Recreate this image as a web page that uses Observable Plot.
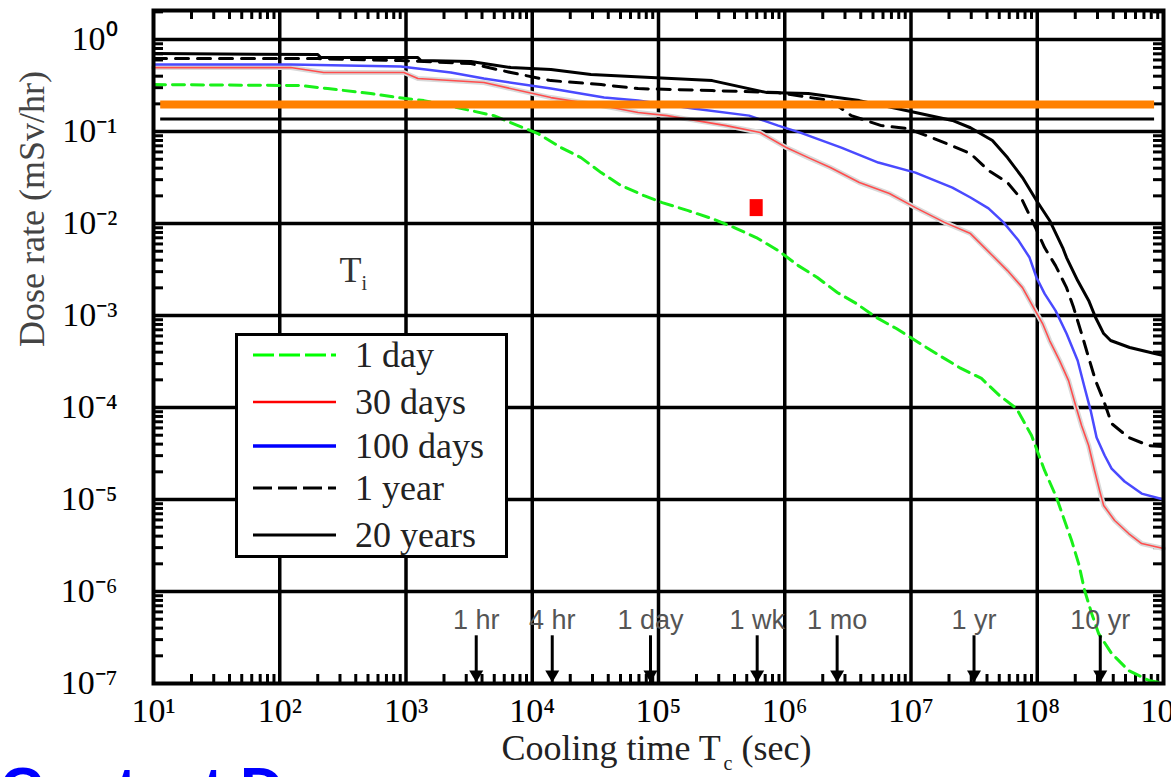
<!DOCTYPE html>
<html><head><meta charset="utf-8">
<script src="https://cdn.jsdelivr.net/npm/d3@7"></script>
<script src="https://cdn.jsdelivr.net/npm/@observablehq/plot@0.6"></script>
<style>
html,body{margin:0;padding:0;background:#fff;overflow:hidden;}
#wrap{position:relative;width:1171px;height:777px;overflow:hidden;background:#fff;}
#legend{position:absolute;left:235px;top:333px;width:267px;height:219px;border:3px solid #000;background:#fff;}
#blueText{position:absolute;left:0;top:759px;font:bold 60px/60px "Liberation Sans",Arial,sans-serif;color:#0000ff;white-space:nowrap;}
</style></head>
<body><div id="wrap"><div id="blueText">Contact Dose</div></div>
<script>
// ---- Data (cooling time in s, dose rate in mSv/hr) ----
const seriesNames = ["1 day", "30 days", "100 days", "1 year", "20 years"];

const day1 = [[10,0.324],[147,0.316],[240,0.293],[526,0.259],[861,0.234],[1384,0.217],[3266,0.169],[4966,0.149],[7709,0.116],[11090,0.0951],[16900,0.0670],[24320,0.0521],[35080,0.0358],[50470,0.0259],[76910,0.0201],[1.069e5,0.0169],[1.718e5,0.0138],[2.661e5,0.0113],[3.981e5,0.00905],[5.943e5,0.00705],[8.872e5,0.00509],[1.279e6,0.00349],[1.811e6,0.00259],[2.606e6,0.00178],[3.690e6,0.00135],[5.321e6,9.51e-4],[7.656e6,7.22e-4],[1.146e7,5.09e-4],[1.679e7,3.68e-4],[2.421e7,2.72e-4],[3.614e7,2.07e-4],[5.023e7,1.35e-4],[6.855e7,9.75e-5],[9.016e7,4.96e-5],[1.143e8,2.07e-5],[1.422e8,1.05e-5],[1.644e8,5.91e-6],[1.871e8,3.58e-6],[2.128e8,2.01e-6],[2.371e8,1.03e-6],[2.698e8,5.77e-7],[3.062e8,3.49e-7],[3.882e8,2.12e-7],[5.297e8,1.38e-7],[7.638e8,1.08e-7],[1e9,1.0e-7]];

const days30 = [[10,0.496],[122,0.496],[223,0.438],[962,0.438],[1242,0.377],[4140,0.341],[14060,0.234],[35080,0.192],[68870,0.161],[1.170e5,0.149],[3.436e5,0.116],[6.397e5,0.0975],[1.028e6,0.0670],[1.535e6,0.0521],[2.296e6,0.0406],[3.899e6,0.0279],[6.745e6,0.0212],[1.084e7,0.0149],[1.841e7,0.0103],[2.958e7,0.00778],[4.416e7,0.00449],[5.808e7,0.00308],[7.638e7,0.00201],[9.354e7,0.00122],[1.102e8,8.18e-4],[1.253e8,5.35e-4],[1.503e8,3.24e-4],[1.770e8,1.96e-4],[2.014e8,1.05e-4],[2.244e8,6.37e-5],[2.553e8,3.86e-5],[2.844e8,2.07e-5],[3.119e8,1.25e-5],[3.357e8,8.61e-6],[4.102e8,5.91e-6],[5.297e8,4.27e-6],[6.714e8,3.32e-6],[1e9,2.93e-6]];

const days100 = [[10,0.535],[122,0.535],[910,0.509],[2265,0.438],[4140,0.377],[14060,0.293],[37070,0.234],[68870,0.217],[1.879e5,0.178],[5.224e5,0.149],[8.872e5,0.116],[1.327e6,0.0975],[2.805e6,0.0670],[5.508e6,0.0460],[1.084e7,0.0358],[2.128e7,0.0246],[2.958e7,0.0192],[4.111e7,0.0146],[5.404e7,0.0103],[7.112e7,0.00653],[8.690e7,0.00427],[9.863e7,0.00259],[1.143e8,0.00173],[1.396e8,0.00113],[1.706e8,6.37e-4],[2.089e8,3.24e-4],[2.371e8,1.65e-4],[2.649e8,9.27e-5],[2.951e8,4.72e-5],[3.420e8,3.01e-5],[3.882e8,2.17e-5],[4.920e8,1.57e-5],[6.714e8,1.16e-5],[1e9,1.0e-5]];

const year1 = [[10,0.621],[200,0.621],[910,0.591],[3266,0.548],[6776,0.438],[14060,0.358],[35080,0.324],[68870,0.293],[2.661e5,0.279],[8.872e5,0.265],[2.296e6,0.217],[3.365e6,0.149],[5.821e6,0.116],[9.354e6,0.108],[1.324e7,0.0905],[2.089e7,0.0705],[2.958e7,0.0577],[4.111e7,0.0377],[5.808e7,0.0279],[7.638e7,0.0178],[9.683e7,0.00905],[1.143e8,0.00548],[1.396e8,0.00349],[1.706e8,0.00201],[1.941e8,0.00122],[2.244e8,6.37e-4],[2.553e8,3.49e-4],[2.897e8,1.96e-4],[3.357e8,1.19e-4],[3.882e8,6.70e-5],[5.297e8,4.72e-5],[7.638e8,3.86e-5],[1e9,3.77e-5]];

const years20 = [[10,0.705],[200,0.687],[211,0.637],[1242,0.637],[1310,0.591],[3266,0.577],[6776,0.496],[14060,0.472],[29170,0.417],[87300,0.386],[2.661e5,0.358],[7.261e5,0.265],[1.535e6,0.259],[3.899e6,0.217],[1.084e7,0.161],[2.128e7,0.132],[2.958e7,0.110],[4.416e7,0.0798],[5.808e7,0.0521],[7.638e7,0.0316],[9.863e7,0.0178],[1.253e8,0.0108],[1.589e8,0.00548],[1.706e8,0.00427],[2.089e8,0.00240],[2.553e8,0.00146],[2.897e8,9.51e-4],[3.357e8,6.37e-4],[3.811e8,5.35e-4],[5.395e8,4.49e-4],[8.511e8,3.86e-4],[1e9,3.68e-4]];

// Tick values and labels
const xTicks = [1e1,1e2,1e3,1e4,1e5,1e6,1e7,1e8,1e9];
const xTickLabels = ["10¹","10²","10³","10⁴","10⁵","10⁶","10⁷","10⁸","10⁹"];
const yTicks = [1,1e-1,1e-2,1e-3,1e-4,1e-5,1e-6,1e-7];
const yTickLabels = ["10⁰","10⁻¹","10⁻²","10⁻³","10⁻⁴","10⁻⁵","10⁻⁶","10⁻⁷"];

// Time markers along the bottom
const markerTimes = [3600, 14400, 86400, 604800, 2.6e6, 3.156e7, 3.156e8];
const markerLabels = ["1 hr", "4 hr", "1 day", "1 wk", "1 mo", "1 yr", "10 yr"];
const markerLabelDose = 4.84e-7;
const markerTopDose = 3.3e-7;
const markerHeadDose = 1.19e-7;

// Overlay annotations (values)
const orangeLevel = 0.1966, blackLevel = 0.137, overlayT = [11.4, 8.5e8];
const redBox = {x1: 5.32e5, x2: 6.75e5, y1: 0.0119, y2: 0.0182};

// ---- Styles ----
const styles = {
  "1 day":   {stroke: "#19f019", strokeWidth: 3, dash: "12,7"},
  "30 days": {stroke: "#ff4d4d", strokeWidth: 1.6, dash: null},
  "100 days":{stroke: "#4a4aff", strokeWidth: 2.5, dash: null},
  "1 year":  {stroke: "#000", strokeWidth: 3, dash: "13,9"},
  "20 years":{stroke: "#000", strokeWidth: 3, dash: null}
};
const legendStyles = {
  "1 day":   {stroke: "#00ff00", w: 3, dash: "21,5"},
  "30 days": {stroke: "#ff0000", w: 2.5, dash: null},
  "100 days":{stroke: "#0000ff", w: 3.5, dash: null},
  "1 year":  {stroke: "#000", w: 3, dash: "19,6"},
  "20 years":{stroke: "#000", w: 3, dash: null}
};

const xLabelMap = new Map(xTicks.map((d, i) => [d, xTickLabels[i]]));
const yLabelMap = new Map(yTicks.map((d, i) => [d, yTickLabels[i]]));

const xMinor = [];
for (let e = 1; e < 9; e++) for (let m = 2; m < 10; m++) xMinor.push(m * 10 ** e);
const yMinor = [];
for (let e = -7; e <= 0; e++) for (let m = 2; m < 10; m++) { const v = m * 10 ** e; if (v < 2.07) yMinor.push(v); }

const downTriangle = {
  draw(ctx, size) {
    ctx.moveTo(-7, -6); ctx.lineTo(7, -6); ctx.lineTo(0, 6); ctx.closePath();
  }
};

const serif = '"Liberation Serif", "Times New Roman", serif';
const sans = '"Liberation Sans", Arial, sans-serif';
const X = d => d[0], Y = d => d[1];
const lineOpts = (name) => {
  const s = styles[name];
  return {x: X, y: Y, stroke: s.stroke, strokeWidth: s.strokeWidth, strokeDasharray: s.dash ?? undefined, strokeLinejoin: "round"};
};

const chart = Plot.plot({
  width: 1171, height: 777,
  marginLeft: 153, marginRight: 8, marginTop: 10, marginBottom: 94,
  x: {type: "log", domain: [10, 1e9]},
  y: {type: "log", domain: [1e-7, 2.07]},
  style: {fontFamily: serif, background: "white", color: "black"},
  marks: [
    // grid
    Plot.ruleX(xTicks.slice(1, -1), {strokeWidth: 3.5}),
    Plot.ruleY(yTicks.slice(0, -1), {strokeWidth: 3.5}),
    // minor ticks on all four sides
    Plot.ruleX(xMinor, {insetBottom: 664, strokeWidth: 3}),
    Plot.ruleX(xMinor, {insetTop: 664, strokeWidth: 3}),
    Plot.ruleY(yMinor, {insetRight: 1000, strokeWidth: 3}),
    Plot.ruleY(yMinor, {insetLeft: 1000, strokeWidth: 3}),
    // curves
    Plot.line(day1, lineOpts("1 day")),
    Plot.line(days30, {x: X, y: Y, stroke: "#d9d9d9", strokeWidth: 5, strokeLinejoin: "round"}),
    Plot.line(days30, lineOpts("30 days")),
    Plot.line(days100, lineOpts("100 days")),
    Plot.line(year1, lineOpts("1 year")),
    Plot.line(years20, lineOpts("20 years")),
    // overlay lines
    Plot.ruleY([blackLevel], {x1: overlayT[0], x2: overlayT[1], strokeWidth: 3}),
    Plot.ruleY([orangeLevel], {x1: overlayT[0], x2: overlayT[1], stroke: "#ff8000", strokeWidth: 8}),
    Plot.rect([redBox], {x1: "x1", x2: "x2", y1: "y1", y2: "y2", fill: "#ff0000"}),
    // time markers
    Plot.ruleX(markerTimes, {y1: markerTopDose, y2: 1e-7, strokeWidth: 3}),
    Plot.dot(markerTimes, {x: d => d, y: markerHeadDose, symbol: downTriangle, fill: "black", stroke: null}),
    Plot.text(markerTimes, {x: d => d, y: markerLabelDose, text: (d, i) => markerLabels[i], fontFamily: sans, fontSize: 27, fill: "#555"}),
    // T_i annotation
    Plot.text(["T"], {x: 297, y: 0.00312, text: d => d, textAnchor: "start", fontSize: 36, fill: "#333"}),
    Plot.text(["i"], {x: 445, y: 0.00223, text: d => d, textAnchor: "start", fontSize: 20, fill: "#333"}),
    Plot.frame({strokeWidth: 4}),
    // axes
    Plot.axisX({ticks: xTicks, tickFormat: d => xLabelMap.get(d), tickSize: 0, tickPadding: 14, fontSize: 34, label: null, anchor: "bottom"}),
    Plot.axisY({ticks: yTicks, tickFormat: d => yLabelMap.get(d), tickSize: 0, tickPadding: 36, fontSize: 34, label: null, anchor: "left"}),
    // axis titles
    Plot.text(["Dose rate (mSv/hr)"], {frameAnchor: "left", text: d => d, dx: -121, rotate: -90, fontSize: 36, fill: "#444"}),
    Plot.text(["Cooling time T"], {frameAnchor: "bottom-left", text: d => d, textAnchor: "start", dx: 348, dy: 76, fontSize: 36, fill: "#222"}),
    Plot.text(["c"], {frameAnchor: "bottom-left", text: d => d, textAnchor: "start", dx: 570, dy: 86, fontSize: 20, fill: "#222"}),
    Plot.text(["(sec)"], {frameAnchor: "bottom-left", text: d => d, textAnchor: "start", dx: 588, dy: 76, fontSize: 36, fill: "#222"})
  ]
});

const wrap = document.getElementById("wrap");
wrap.insertBefore(chart, wrap.firstChild);

// legend box
const legend = d3.select(wrap).append("div").attr("id", "legend");
const lsvg = legend.append("svg").attr("width", 267).attr("height", 219);
const rowY = [19, 66, 110, 152, 199];
seriesNames.forEach((name, i) => {
  const s = legendStyles[name];
  lsvg.append("line").attr("x1", 15).attr("x2", 98).attr("y1", rowY[i]).attr("y2", rowY[i])
    .attr("stroke", s.stroke).attr("stroke-width", s.w).attr("stroke-dasharray", s.dash);
  lsvg.append("text").attr("x", 117).attr("y", rowY[i] + 12).text(name)
    .attr("font-family", serif).attr("font-size", 36).attr("fill", "#222");
});
</script>
</body></html>
